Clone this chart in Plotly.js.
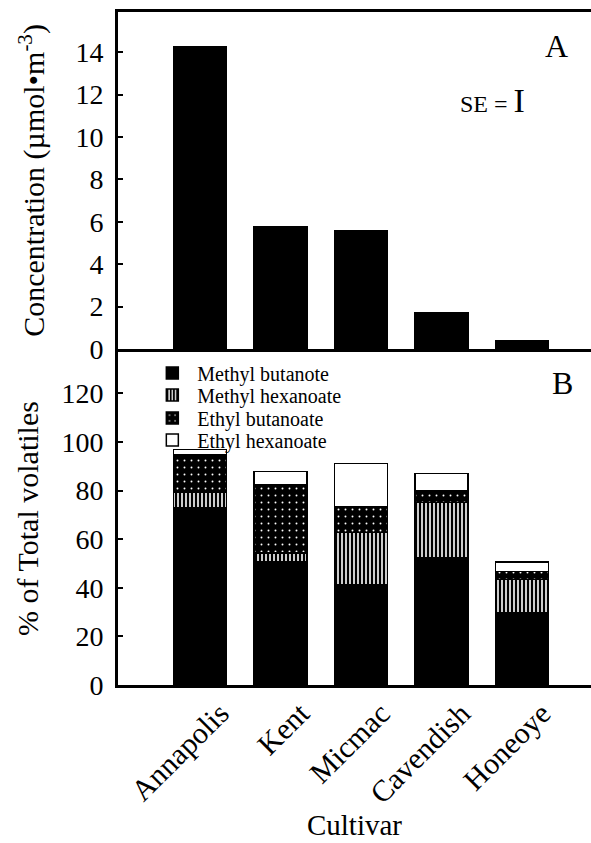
<!DOCTYPE html>
<html>
<head>
<meta charset="utf-8">
<script src="https://cdn.plot.ly/plotly-3.0.1.min.js"></script>
<style>html,body{margin:0;padding:0;background:#fff;}#chart{width:591px;height:843px;}</style>
</head>
<body>
<div id="chart"></div>
<script>
const cultivars = ['Annapolis', 'Kent', 'Micmac', 'Cavendish', 'Honeoye'];
const concentration = [14.25, 5.75, 5.6, 1.7, 0.38];
const methylButanoate = [73, 50.7, 41.2, 52.4, 29.7];
const methylHexanoate = [6.2, 3.7, 21.5, 22.6, 13.6];
const ethylButanoate = [15.6, 28.1, 10.5, 5, 3.3];
const ethylHexanoate = [2.1, 5.3, 17.9, 7, 4.1];
const seriesNames = ['Methyl butanote', 'Methyl hexanoate', 'Ethyl butanoate', 'Ethyl hexanoate'];

const FONT = 'Liberation Serif';
const outline = {color: '#000', width: 1.5};

const traces = [
  {type: 'bar', x: cultivars, y: concentration, xaxis: 'x2', yaxis: 'y2', showlegend: false,
   marker: {color: '#000', line: outline}},
  {type: 'bar', name: seriesNames[0], x: cultivars, y: methylButanoate, legend: 'legend',
   marker: {color: '#000', line: outline}},
  {type: 'bar', name: seriesNames[1], x: cultivars, y: methylHexanoate, legend: 'legend2',
   marker: {color: '#fff', line: outline,
     pattern: {shape: '|', fgcolor: '#000', bgcolor: '#fff', size: 4, solidity: 0.6, fillmode: 'replace'}}},
  {type: 'bar', name: seriesNames[2], x: cultivars, y: ethylButanoate, legend: 'legend3',
   marker: {color: '#000', line: outline,
     pattern: {shape: '.', fgcolor: '#fff', bgcolor: '#000', size: 7, solidity: 0.06, fillmode: 'replace'}}},
  {type: 'bar', name: seriesNames[3], x: cultivars, y: ethylHexanoate, legend: 'legend4',
   marker: {color: '#fff', line: outline}}
];

const axisFont = {family: FONT, size: 28, color: '#000'};
function leg(y) {
  return {x: 0.062, y: y, xanchor: 'left', yanchor: 'middle',
    font: {family: FONT, size: 20, color: '#000'}, bgcolor: 'rgba(0,0,0,0)', itemwidth: 40};
}
const layout = {
  width: 591, height: 843,
  margin: {l: 118, r: 0, t: 12, b: 158},
  paper_bgcolor: '#fff', plot_bgcolor: '#fff',
  font: {family: FONT, color: '#000'},
  barmode: 'stack',
  bargap: 0.34,
  showlegend: true,
  legend: leg(0.4636),
  legend2: leg(0.4309),
  legend3: leg(0.3967),
  legend4: leg(0.3640),
  xaxis: {type: 'category', anchor: 'y', domain: [0, 1], range: [-1.02, 4.86],
    showline: true, linecolor: '#000', linewidth: 3, mirror: true, ticks: '',
    tickangle: -45, tickfont: {family: FONT, size: 30, color: '#000'}, ticklabelshift: 20, ticklabelstandoff: -4,
    title: {text: 'Cultivar', font: {family: FONT, size: 29, color: '#000'}, standoff: 0},
    showgrid: false, zeroline: false},
  xaxis2: {type: 'category', anchor: 'y2', matches: 'x', domain: [0, 1],
    showline: true, linecolor: '#000', linewidth: 3, mirror: true, ticks: '',
    showticklabels: false, showgrid: false, zeroline: false},
  yaxis: {domain: [0, 0.4948], range: [0, 137], tickvals: [0, 20, 40, 60, 80, 100, 120],
    showline: true, linecolor: '#000', linewidth: 3, ticks: 'inside', ticklen: 5, tickwidth: 2, tickcolor: '#000',
    tickfont: axisFont, ticklabelstandoff: 6, showgrid: false, zeroline: false,
    title: {text: '% of Total volatiles', font: {family: FONT, size: 30, color: '#000'}, standoff: 14}},
  yaxis2: {domain: [0.4993, 1], range: [0, 15.9], tickvals: [0, 2, 4, 6, 8, 10, 12, 14],
    showline: true, linecolor: '#000', linewidth: 3, ticks: 'inside', ticklen: 5, tickwidth: 2, tickcolor: '#000',
    tickfont: axisFont, ticklabelstandoff: 6, showgrid: false, zeroline: false,
    title: {text: 'Concentration (µmol•m<sup>-3</sup>)', font: {family: FONT, size: 30, color: '#000'}, standoff: 22}},
  annotations: [
    {text: 'A', xref: 'paper', yref: 'paper', x: 0.928, y: 0.9495, xanchor: 'center', yanchor: 'middle', showarrow: false,
     font: {family: FONT, size: 32, color: '#000'}},
    {text: 'B', xref: 'paper', yref: 'paper', x: 0.9387, y: 0.4487, xanchor: 'center', yanchor: 'middle', showarrow: false,
     font: {family: FONT, size: 32, color: '#000'}},
    {text: 'SE = <span style="font-size:34px">I</span>', xref: 'paper', yref: 'paper', x: 0.7907, y: 0.869,
     xanchor: 'center', yanchor: 'middle', showarrow: false,
     font: {family: FONT, size: 24, color: '#000'}}
  ]
};

Plotly.newPlot('chart', traces, layout, {displayModeBar: false, staticPlot: true});
</script>
</body>
</html>
